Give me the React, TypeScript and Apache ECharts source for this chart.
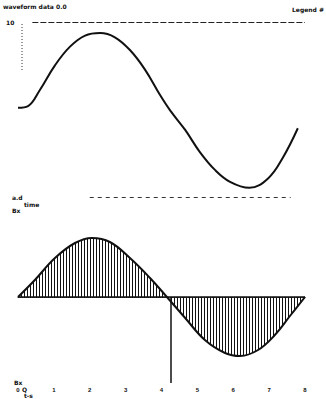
import React, { useEffect, useRef } from "react";
import * as echarts from "echarts";

const topX = [0, 0.28, 0.61, 1.03, 1.45, 1.87, 2.29, 2.7, 3.12, 3.54, 3.96, 4.24, 4.66, 5.07, 5.49, 5.91, 6.45, 6.97, 7.39, 7.8];
const topY = [-0.1, 0.1, 2.0, 4.9, 7.1, 8.4, 8.7, 8.2, 6.7, 4.4, 1.4, -0.4, -2.7, -5.3, -7.4, -8.8, -9.5, -8.4, -5.9, -2.5];
const botX = [0, 0.47, 1.03, 1.59, 2.06, 2.56, 3.12, 3.68, 4.15, 4.66, 5.21, 5.77, 6.19, 6.69, 7.16, 7.58, 8.0];
const botY = [0, 1.7, 3.9, 5.4, 5.9, 5.5, 3.9, 1.9, 0, -2.1, -4.3, -5.6, -5.9, -5.3, -3.8, -1.9, 0];
const xTicks = ["0", "1", "2", "3", "4", "5", "6", "7", "8"];
const markerX = 4.25;

export default function App() {
  const ref = useRef<HTMLDivElement>(null);
  useEffect(() => {
    if (!ref.current) return;
    const chart = echarts.init(ref.current, null, { renderer: "svg" });
    const cv = document.createElement("canvas");
    cv.width = 3;
    cv.height = 4;
    const ctx = cv.getContext("2d")!;
    ctx.fillStyle = "#111";
    ctx.fillRect(0, 0, 1, 4);
    const txt = (x: number, y: number, t: string, size = 6) => ({
      type: "text", left: x, top: y,
      style: { text: t, fill: "#111", font: `bold ${size}px DejaVu Sans` },
    });
    chart.setOption({
      animation: false,
      backgroundColor: "#fff",
      grid: [
        { left: 18, right: 21, top: 22, height: 170 },
        { left: 18, right: 21, top: 197, height: 186 },
      ],
      xAxis: [
        { gridIndex: 0, type: "value", min: 0, max: 8, show: false },
        {
          gridIndex: 1, type: "value", min: 0, max: 8, interval: 1,
          axisLine: { show: true, lineStyle: { color: "#222", type: "dotted", width: 1 } },
          axisTick: { show: false },
          splitLine: { show: false },
          axisLabel: { color: "#111", fontSize: 6, fontWeight: "bold", margin: 4, formatter: (v: number) => xTicks[v] ?? "" },
        },
      ],
      yAxis: [
        { gridIndex: 0, type: "value", min: -10, max: 10, show: false },
        { gridIndex: 1, type: "value", min: -8.6, max: 10, show: false },
      ],
      graphic: [
        txt(3, 3, "waveform data 0.0"),
        txt(292, 6, "Legend #"),
        txt(6, 19, "10"),
        txt(12, 194, "a.d"),
        txt(24, 201, "time"),
        txt(12, 207, "Bx"),
        txt(14, 379, "Bx"),
        txt(22, 386, "Q"),
        txt(24, 392, "t-s"),
        {
          type: "line", shape: { x1: 22, y1: 24, x2: 22, y2: 70 },
          style: { stroke: "#333", lineDash: [1, 2], lineWidth: 1 },
        },
      ],
      series: [
        {
          type: "line", xAxisIndex: 0, yAxisIndex: 0,
          data: topX.map((x, i) => [x, topY[i]]),
          smooth: 0.4, symbol: "none",
          lineStyle: { color: "#111", width: 2 },
          markLine: {
            silent: true, symbol: "none", label: { show: false },
            lineStyle: { color: "#222", type: [6, 2], width: 1 },
            data: [[{ coord: [0.4, 10] }, { coord: [8, 10] }]],
          },
        },
        {
          type: "line", xAxisIndex: 1, yAxisIndex: 1,
          data: botX.map((x, i) => [x, botY[i]]),
          smooth: 0.4, symbol: "none",
          lineStyle: { color: "#111", width: 2 },
          areaStyle: { color: { image: cv, repeat: "repeat" }, opacity: 1 },
          markLine: {
            silent: true, symbol: "none", label: { show: false },
            data: [
              { yAxis: 0, lineStyle: { color: "#111", type: "solid", width: 1.5 } },
              [
                { coord: [2.0, 10], lineStyle: { color: "#333", type: [4, 4], width: 1 } },
                { coord: [7.6, 10] },
              ],
              [
                { coord: [markerX, 0], lineStyle: { color: "#111", type: "solid", width: 1.5 } },
                { coord: [markerX, -8.6] },
              ],
            ],
          },
        },
      ],
    });
    return () => chart.dispose();
  }, []);
  return <div ref={ref} style={{ width: 326, height: 399, position: "absolute", left: 0, top: 0 }} />;
}
